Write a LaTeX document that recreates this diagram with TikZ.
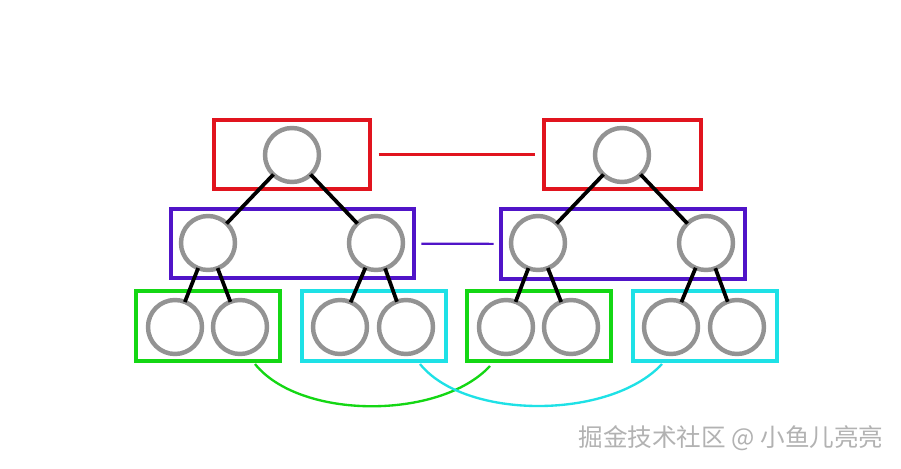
\documentclass[tikz,border=0pt]{standalone}
\usepackage{fontspec}
\newfontfamily\cjk{Noto Sans CJK SC}
\definecolor{cred}{RGB}{225,20,30}
\definecolor{cpur}{RGB}{80,20,200}
\definecolor{cgrn}{RGB}{20,215,20}
\definecolor{ccyn}{RGB}{30,225,230}
\begin{document}
\begin{tikzpicture}[x=0.03cm,y=-0.03cm,
  circ/.style={circle,draw=gray!85,line width=3.8pt,minimum size=54*0.03cm,inner sep=0},
  box/.style={draw,line width=2.6pt},
  edge/.style={line width=3.2pt,black,shorten <=-2pt,shorten >=-2pt}]
\useasboundingbox (0,0) rectangle (901,468);
\fill[white] (0,0) rectangle (901,468);
% left tree
\node[box,draw=cred,minimum width=156*0.03cm,minimum height=69*0.03cm] (LR) at (292,154.5) {};
\node[box,draw=cpur,minimum width=243*0.03cm,minimum height=69*0.03cm] (LP) at (292.5,243.5) {};
\node[box,draw=cgrn,minimum width=144*0.03cm,minimum height=70*0.03cm] (LG) at (208,326) {};
\node[box,draw=ccyn,minimum width=144*0.03cm,minimum height=70*0.03cm] (LC) at (374,326) {};
\node[circ] (l0) at (292,155) {};
\node[circ] (l1) at (208,243) {};
\node[circ] (l2) at (376,243) {};
\node[circ] (l3) at (175,327) {};
\node[circ] (l4) at (240,327) {};
\node[circ] (l5) at (340,327) {};
\node[circ] (l6) at (406,327) {};
% right tree
\node[box,draw=cred,minimum width=157*0.03cm,minimum height=69*0.03cm] (RR) at (622.5,154.5) {};
\node[box,draw=cpur,minimum width=244*0.03cm,minimum height=70*0.03cm] (RP) at (623,244) {};
\node[box,draw=cgrn,minimum width=144*0.03cm,minimum height=70*0.03cm] (RG) at (539,326) {};
\node[box,draw=ccyn,minimum width=144*0.03cm,minimum height=70*0.03cm] (RC) at (705,326) {};
\node[circ] (r0) at (622,155) {};
\node[circ] (r1) at (538,243) {};
\node[circ] (r2) at (706,243) {};
\node[circ] (r3) at (506,327) {};
\node[circ] (r4) at (571,327) {};
\node[circ] (r5) at (671,327) {};
\node[circ] (r6) at (737,327) {};
% tree edges
\foreach \t in {l,r}{
  \draw[edge] (\t0) -- (\t1); \draw[edge] (\t0) -- (\t2);
  \draw[edge] (\t1) -- (\t3); \draw[edge] (\t1) -- (\t4);
  \draw[edge] (\t2) -- (\t5); \draw[edge] (\t2) -- (\t6);
}
% links
\draw[cred,line width=1.8pt,shorten <=6pt,shorten >=6pt] (LR) -- (RR);
\draw[cpur,line width=1.8pt,shorten <=5pt,shorten >=5pt] (LP) -- (RP);
\coordinate (g1) at (255,364); \coordinate (g2) at (490,366);
\coordinate (c1) at (420,364); \coordinate (c2) at (662,364);
\draw[cgrn,line width=2pt] (g1) .. controls (300,420) and (440,420) .. (g2);
\draw[ccyn,line width=2pt] (c1) .. controls (465,420) and (610,420) .. (c2);
\node[font=\cjk\fontsize{21}{21}\selectfont,text=gray!60] (wm) at (731,438) {掘金技术社区 @ 小鱼儿亮亮};
\end{tikzpicture}
\end{document}
